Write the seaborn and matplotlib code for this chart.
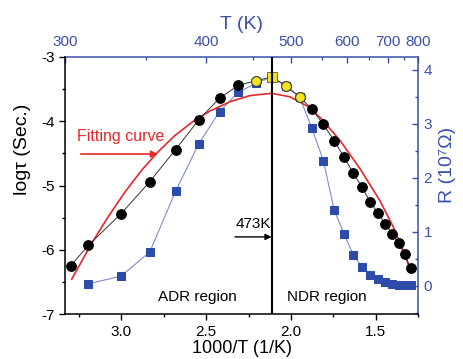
import numpy as np
import pandas as pd
import matplotlib
matplotlib.use("Agg")
import matplotlib.pyplot as plt
import seaborn as sns
from matplotlib.ticker import MultipleLocator

# ---------------- data ----------------
T_tau = [303, 313, 333, 353, 373, 393, 413, 433, 453, 473, 493, 513, 533,
         553, 573, 593, 613, 633, 653, 673, 693, 713, 733, 753, 773]
log_tau = [-6.25, -5.93, -5.44, -4.94, -4.44, -3.98, -3.64, -3.44, -3.37,
           -3.31, -3.45, -3.62, -3.81, -4.05, -4.30, -4.56, -4.81, -5.03,
           -5.26, -5.43, -5.60, -5.75, -5.90, -6.07, -6.29]

T_R = [313, 333, 353, 373, 393, 413, 433, 453, 473, 493, 513, 533, 553,
       573, 593, 613, 633, 653, 673, 693, 713, 733, 753, 773]
R_vals = [0.04, 0.18, 0.63, 1.75, 2.63, 3.23, 3.59, 3.75, 3.87, 3.70, 3.50,
          2.92, 2.32, 1.41, 0.96, 0.57, 0.35, 0.20, 0.12, 0.07, 0.04, 0.02,
          0.02, 0.01]

highlight_circle_T = [453, 493, 513]
highlight_square_T = [473]

fit_x = [3.294, 3.176, 3.077, 2.979, 2.880, 2.782, 2.684, 2.576, 2.477,
         2.359, 2.241, 2.113, 2.005, 1.906, 1.828, 1.710, 1.592, 1.474,
         1.395, 1.336, 1.297]
fit_y = [-6.46, -5.90, -5.48, -5.10, -4.76, -4.47, -4.22, -4.00, -3.84,
         -3.695, -3.60, -3.565, -3.62, -3.76, -3.94, -4.30, -4.74, -5.24,
         -5.65, -6.02, -6.30]

T_transition = 473
x_ticks = [3.0, 2.5, 2.0, 1.5]
left_ticks = [-7, -6, -5, -4, -3]
right_ticks = [0, 1, 2, 3, 4]
T_ticks = [300, 400, 500, 600, 700, 800]
T_minor = [350, 450, 550, 650, 750]

# ---------------- style ----------------
sns.set_theme(style="ticks")
plt.rcParams["font.family"] = ["Liberation Sans", "DejaVu Sans"]
plt.rcParams["axes.unicode_minus"] = False

BLUE = "#3a4fa8"
SQ = "#2d4caa"
BLUE_LINE = "#7d8dd0"
RED = "#e8262b"

df_tau = pd.DataFrame({"x": 1000 / np.array(T_tau, float), "y": log_tau, "T": T_tau})
df_R = pd.DataFrame({"x": 1000 / np.array(T_R, float), "R": R_vals, "T": T_R})
df_fit = pd.DataFrame({"x": fit_x, "y": fit_y})

fig = plt.figure(figsize=(4.63, 3.59), dpi=100)
ax = fig.add_axes([65 / 463, 1 - 314 / 359, 353 / 463, 257 / 359])
ax2 = ax.twinx()
ax.set_zorder(ax2.get_zorder() + 1)
ax.patch.set_visible(False)

# right axis: resistance
sns.lineplot(data=df_R, x="x", y="R", sort=False, ax=ax2, color=BLUE_LINE,
             lw=0.8, marker="s", markersize=5.5, markerfacecolor=SQ,
             markeredgecolor=SQ, estimator=None)

# left axis: fit + log tau
sns.lineplot(data=df_fit, x="x", y="y", sort=False, ax=ax, color=RED,
             lw=1.2, estimator=None)
sns.lineplot(data=df_tau, x="x", y="y", sort=False, ax=ax, color="#333333",
             lw=0.7, marker="o", markersize=7, markerfacecolor="black",
             markeredgecolor="black", estimator=None)
hc = df_tau[df_tau["T"].isin(highlight_circle_T)]
ax.plot(hc["x"], hc["y"], ls="none", marker="o", markersize=7,
        markerfacecolor="#f2e41c", markeredgecolor="#444444", mew=0.7)
hs = df_tau[df_tau["T"].isin(highlight_square_T)]
ax.plot(hs["x"], hs["y"], ls="none", marker="s", markersize=6.5,
        markerfacecolor="#f2e41c", markeredgecolor="#555555", mew=0.6)

ax.axvline(1000 / T_transition, color="black", lw=1.5)

# annotations
ax.annotate("", xy=(2.785, -4.51), xytext=(3.24, -4.51),
            arrowprops=dict(arrowstyle="-|>", color=RED, lw=1.2,
                            mutation_scale=10, shrinkA=0, shrinkB=0))
ax.text(3.005, -4.24, "Fitting curve", color=RED, fontsize=11.5,
        ha="center", va="center")
ax.annotate("", xy=(1000 / T_transition, -5.80), xytext=(2.33, -5.80),
            arrowprops=dict(arrowstyle="-|>", color="black", lw=1.0,
                            mutation_scale=9, shrinkA=0, shrinkB=0))
ax.text(2.22, -5.60, "473K", color="black", fontsize=11, ha="center",
        va="center")
ax.text(2.55, -6.73, "ADR region", color="black", fontsize=11,
        ha="center", va="center")
ax.text(1.79, -6.73, "NDR region", color="black", fontsize=11,
        ha="center", va="center")

# limits & ticks
ax.set_xlim(1000 / 300, 1000 / 800)
ax.set_ylim(-7, -3)
ax2.set_ylim(-0.52, 4.24)
ax.set_xticks(x_ticks)
ax.xaxis.set_minor_locator(MultipleLocator(0.25))
ax.set_yticks(left_ticks)
ax.yaxis.set_minor_locator(MultipleLocator(0.5))
ax.tick_params(which="both", direction="out", top=False, right=False,
               colors="black", labelsize=11, width=1)
ax.tick_params(which="major", length=4.5, pad=3)
ax.tick_params(axis="x", which="major", pad=3.5)
ax.tick_params(which="minor", length=2.5)
ax.set_xticklabels([f"{v:.1f}" for v in x_ticks])
ax.set_yticklabels([str(v) for v in left_ticks])

ax2.set_yticks(right_ticks)
ax2.yaxis.set_minor_locator(MultipleLocator(0.5))
ax2.tick_params(which="both", direction="in", colors=BLUE, labelsize=11,
                width=1, left=False)
ax2.tick_params(which="major", length=4.5, pad=4)
ax2.tick_params(which="minor", length=2.5)

inv = lambda v: 1000 / np.asarray(v, float)
sec = ax.secondary_xaxis("top", functions=(inv, inv))
sec.set_xticks(T_ticks)
sec.set_xticks(T_minor, minor=True)
sec.set_xticklabels([str(t) for t in T_ticks])
sec.tick_params(which="both", direction="in", colors=BLUE, labelsize=11,
                width=1)
sec.tick_params(which="major", length=4.5, pad=6)
sec.tick_params(which="minor", length=2.5)

# spines
for s in ["top", "right"]:
    ax.spines[s].set_visible(False)
for s in ["top", "left", "bottom"]:
    ax2.spines[s].set_visible(False)
ax.spines["left"].set_color("black")
ax.spines["bottom"].set_color("black")
ax2.spines["right"].set_color(BLUE)
sec.spines["top"].set_color(BLUE)
for sp in [ax.spines["left"], ax.spines["bottom"], ax2.spines["right"],
           sec.spines["top"]]:
    sp.set_linewidth(1.1)

# labels
ax.set_xlabel("1000/T (1/K)", fontsize=13, color="black")
ax.xaxis.set_label_coords(0.5, -0.102)
ax.set_ylabel("logτ (Sec.)", fontsize=14, color="black")
ax.yaxis.set_label_coords(-0.095, 0.64)
ax2.set_ylabel("R (10⁷Ω)", fontsize=14, color=BLUE)
ax2.yaxis.set_label_coords(1.059, 0.58)
sec.set_xlabel("T (K)", fontsize=14, color=BLUE, labelpad=4)

fig.savefig("out.png", dpi=100)
